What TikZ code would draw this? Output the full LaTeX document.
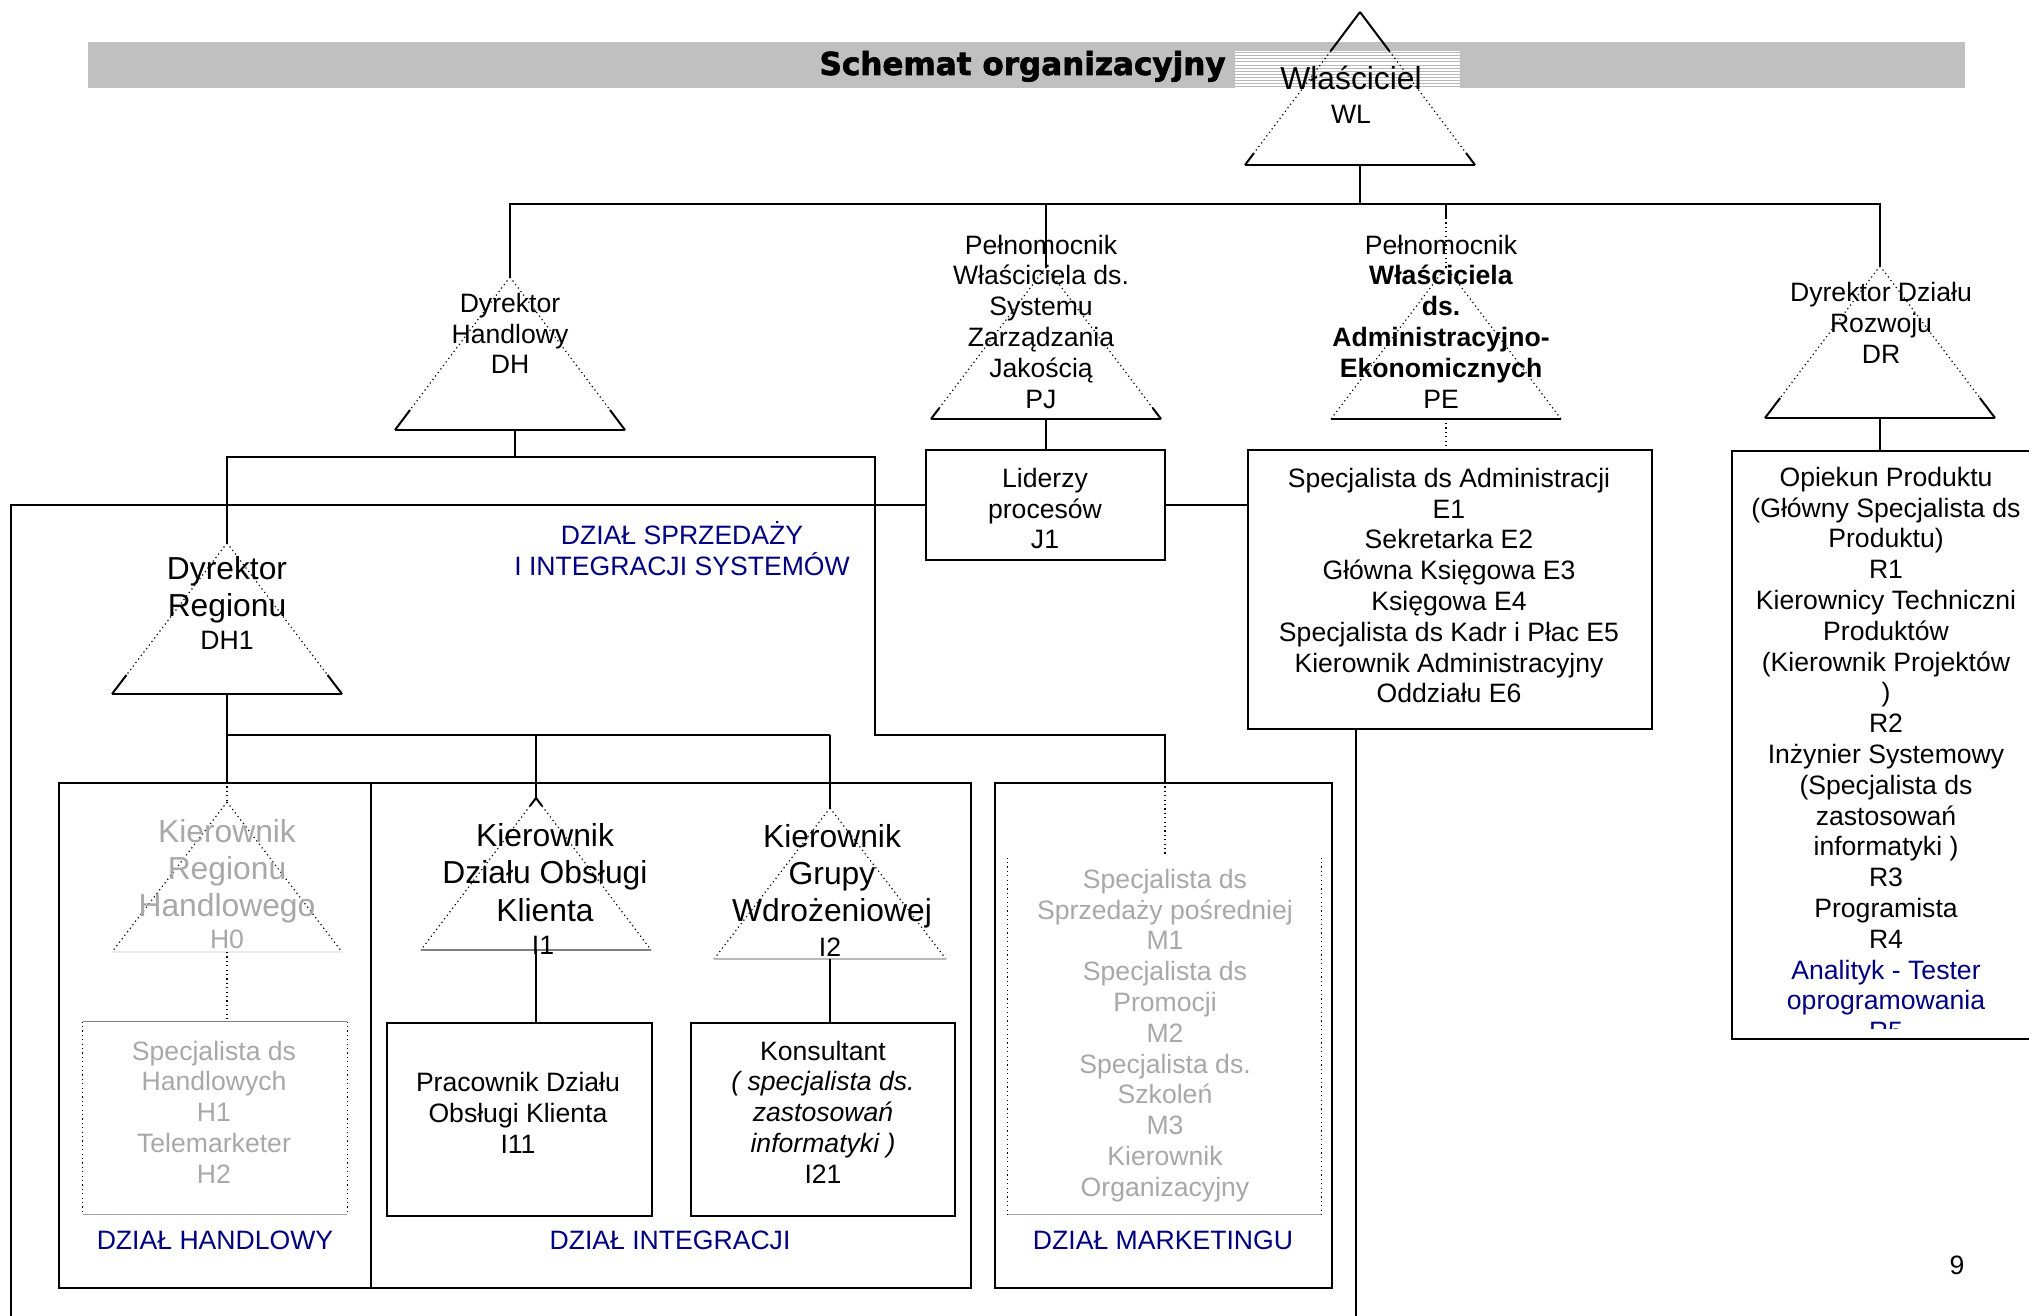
\documentclass[tikz,border=0pt]{standalone}
\usepackage{fontspec}
\setmainfont{Liberation Sans}
\newfontfamily\headfont{DejaVu Sans}[BoldFont={DejaVu Sans Bold},BoldFeatures={FakeBold=2}]
\usetikzlibrary{calc,fit}
\definecolor{navy}{HTML}{000080}
\definecolor{bargray}{HTML}{C0C0C0}
\definecolor{ghost}{gray}{0.66}

% triangle: name, centre x, apex y, base y, half width, dotted from y, dotted to y
\newcommand\orgtri[7]{%
  \coordinate (#1-a) at (#2,#3);
  \coordinate (#1-l) at ({#2-#5},#4);
  \coordinate (#1-r) at ({#2+#5},#4);
  \coordinate (#1-b) at (#2,#4);
  \foreach \s in {l,r}{
    \draw[triline] (#1-a) -- ($(#1-a)!{(#6-#3)/(#4-#3)}!(#1-\s)$);
    \draw[tridot] ($(#1-a)!{(#6-#3)/(#4-#3)}!(#1-\s)$) -- ($(#1-a)!{(#7-#3)/(#4-#3)}!(#1-\s)$);
    \draw[triline] ($(#1-a)!{(#7-#3)/(#4-#3)}!(#1-\s)$) -- (#1-\s);
  }%
}
% rectangular frame node from two corners
\newcommand\frameat[4]{%
  \coordinate (#1-nw) at (#2);
  \coordinate (#1-se) at (#3);
  \node[fit=(#1-nw)(#1-se),inner sep=0pt,#4] (#1) {};%
}

\begin{document}
\begin{tikzpicture}[x=0.5pt,y=-0.5pt,
  conn/.style={line width=1pt},
  thinconn/.style={line width=0.7pt},
  dots/.style={line width=0.6pt,dash pattern=on 0.6pt off 1.6pt},
  triline/.style={conn},
  tridot/.style={dots},
  frame/.style={draw,line width=1.2pt,fill=white},
  txt/.style={font=\fontsize{13.3}{15.4}\selectfont,align=center,inner sep=0pt},
  big/.style={font=\fontsize{15.9}{18.6}\selectfont,align=center,inner sep=0pt},
  ghosttxt/.style={text=ghost},
  deptlabel/.style={txt,text=navy}]

\useasboundingbox (0,0) rectangle (2029,1316);

% heading bar
\fill[bargray] (88,42) rectangle (1965,88);
\node[anchor=base east,inner sep=0pt] (title) at (1226,75)
  {\resizebox{203pt}{12pt}{\headfont\bfseries Schemat organizacyjny}};
% striped plate behind the owner
\fill[white] (1235,51) rectangle (1460,88);
\foreach \k in {0,...,11}
  \draw[gray!55,line width=0.35pt] (1235,{52.5+3.1*\k}) -- (1460,{52.5+3.1*\k});

% frames
\frameat{j1}{926,450}{1165,560}{frame}
\frameat{eb}{1248,450}{1652,729}{frame}
\frameat{rb}{1732,451}{2045,1039}{frame}
\frameat{hi}{59,783}{971,1288}{frame,line width=1pt}
\frameat{i11}{387,1023}{652,1216}{frame}
\frameat{i21}{691,1023}{955,1216}{frame}
\frameat{mk}{995,783}{1332,1288}{frame,line width=1pt}
\frameat{hb}{83,1022}{347,1214}{}
\frameat{mki}{1008,858}{1321,1214}{}

% divider between trade and integration departments
\coordinate (div) at (371,783);
\draw[thinconn] (div) -- (div |- hi.south);

% ghost frames
\draw[line width=0.6pt,gray] (hb.north west) -- (hb.north east);
\draw[line width=0.6pt,gray!70] (hb.south west) -- (hb.south east);
\draw[dots] (hb.north west) -- (hb.south west);
\draw[dots] (hb.north east) -- (hb.south east);
\draw[line width=0.6pt,gray!70] (mki.south west) -- (mki.south east);
\draw[dots] (mki.north west) -- (mki.south west);
\draw[dots] (mki.north east) -- (mki.south east);

% triangles
\orgtri{wl}{1360}{12}{165}{115}{51}{153}
\orgtri{dh}{510}{277}{430}{115}{277}{410}
\orgtri{pj}{1046}{267}{419}{115}{267}{408}
\orgtri{pe}{1446}{267}{419}{115}{267}{419}
\orgtri{dr}{1880}{266}{418}{115}{266}{398}
\orgtri{dh1}{227}{543}{694}{115}{543}{675}
\orgtri{i1}{536}{798}{950}{115}{806}{950}
\orgtri{i2}{830}{808}{959}{116}{808}{959}
\orgtri{h0}{227}{802}{952}{115}{802}{952}
\foreach \t in {wl,dh,pj,pe,dr,dh1} \draw[conn] (\t-l) -- (\t-r);
\draw[line width=0.7pt,gray] (i1-l) -- (i1-r);
\draw[line width=0.7pt,gray!55] (i2-l) -- (i2-r);
\draw[line width=0.6pt,gray!15] (h0-l) -- (h0-r);

% top level connectors
\coordinate (bus) at (1360,204);
\draw[conn] (wl-b) -- (bus);
\draw[conn] (dh-a) -- (dh-a |- bus) -- (dr-a |- bus) -- (dr-a);
\draw[conn] (pj-a |- bus) -- (pj-a);
\draw[conn] (pe-a |- bus) -- ++(0,14) coordinate (pe-k);
\draw[dots] (pe-k) -- (pe-a);
\draw[conn] (pj-b) -- (pj-b |- j1.north);
\draw[dots] (pe-b) ++(0,4) -- (pe-b |- eb.north);
\draw[conn] (dr-b) -- (dr-b |- rb.north);
\draw[conn] (j1.east) -- (j1.east -| eb.west);

% sales and systems integration container
\coordinate (sal-tl) at (11,505);
\coordinate (sal-r) at (1356,1316);
\draw[conn] (sal-tl |- sal-r) -- (sal-tl) -- (sal-tl -| j1.west);
\draw[conn] (eb.south -| sal-r) -- (sal-r);

% commercial director branches
\coordinate (dhx) at (515,457);
\coordinate (mkturn) at (875,735);
\coordinate (mkx) at (1165,854);
\draw[conn] (dhx |- dh-b) -- (dhx);
\draw[conn] (dh1-a) -- (dh1-a |- dhx) -- (mkturn |- dhx) -- (mkturn) -- (mkturn -| mkx) -- (mkx |- mk.north);
\draw[dots] (mkx |- mk.north) -- (mkx);

% regional director branches
\coordinate (ibus) at (227,735);
\draw[conn] (dh1-b) -- (ibus) -- (ibus -| i2-a);
\draw[thinconn] (ibus -| i1-a) -- (i1-a);
\draw[thinconn] (ibus -| i2-a) -- (i2-a);
\draw[conn] (ibus) -- (ibus |- hi.north);
\draw[dots] (ibus |- hi.north) -- (h0-a);
\draw[thinconn] (i1-b) -- (i1-b |- i11.north);
\draw[thinconn] (i2-b) -- (i2-b |- i21.north);
\draw[dots] (h0-b) -- (h0-b |- hb.north);

% labels
\node[big] (wl-t) at (1351,78) {Właściciel};
\node[txt] (wl-c) at (1351,114) {WL};
\node[txt] (dh-t) at (510,333.5) {Dyrektor\\Handlowy\\DH};
\node[txt] (pj-t) at (1041,321.5) {Pełnomocnik\\Właściciela ds.\\Systemu\\Zarządzania\\Jakością\\PJ};
\node[txt] (pe-t) at (1441,321.5) {Pełnomocnik\\\textbf{Właściciela}\\\textbf{ds.}\\\textbf{Administracyjno-}\\\textbf{Ekonomicznych}\\PE};
\node[txt] (dr-t) at (1881,323) {Dyrektor Działu\\Rozwoju\\DR};
\node[txt] (j1-t) at (1045,508.5) {Liderzy\\procesów\\J1};
\node[txt] (eb-t) at (1449,585.5) {Specjalista ds Administracji\\E1\\Sekretarka E2\\Główna Księgowa E3\\Księgowa E4\\Specjalista ds Kadr i Płac E5\\Kierownik Administracyjny\\Oddziału E6};
\begin{scope}
  \clip (rb.north west) rectangle (2045,1028);
  \node[txt] (rb-t) at (1886,754) {Opiekun Produktu\\(Główny Specjalista ds\\Produktu)\\R1\\Kierownicy Techniczni\\Produktów\\(Kierownik Projektów\\)\\R2\\Inżynier Systemowy\\(Specjalista ds\\zastosowań\\informatyki )\\R3\\Programista\\R4\\\textcolor{navy}{Analityk - Tester}\\\textcolor{navy}{oprogramowania}\\\textcolor{navy}{R5}};
\end{scope}
\node[deptlabel] (sal-t) at (682,548.5) {DZIAŁ SPRZEDAŻY\\I INTEGRACJI SYSTEMÓW};
\node[big] (dh1-t) at (227,589.5) {Dyrektor\\Regionu};
\node[txt] (dh1-c) at (227,640) {DH1};
\node[big] (i1-t) at (545,872.5) {Kierownik\\Działu Obsługi\\Klienta};
\node[txt] (i1-c) at (543,945) {I1};
\node[big] (i2-t) at (832,876) {Kierownik\\Grupy\\Wdrożeniowej};
\node[txt] (i2-c) at (830,947) {I2};
\node[big,ghosttxt] (h0-t) at (227,871) {Kierownik\\Regionu\\Handlowego};
\node[txt,ghosttxt] (h0-c) at (227,939) {H0};
\node[txt] (i11-t) at (518,1113) {Pracownik Działu\\Obsługi Klienta\\I11};
\node[txt] (i21-t) at (823,1112) {Konsultant\\\textit{( specjalista ds.}\\\textit{zastosowań}\\\textit{informatyki )}\\I21};
\node[txt,ghosttxt] (hb-t) at (214,1112) {Specjalista ds\\Handlowych\\H1\\Telemarketer\\H2};
\node[txt,ghosttxt] (mk-t) at (1165,1035.5) {Specjalista ds\\Sprzedaży pośredniej\\M1\\Specjalista ds\\Promocji\\M2\\Specjalista ds.\\Szkoleń\\M3\\Kierownik\\Organizacyjny};
\node[deptlabel] (hb-l) at (215,1240) {DZIAŁ HANDLOWY};
\node[deptlabel] (hi-l) at (670,1240) {DZIAŁ INTEGRACJI};
\node[deptlabel] (mk-l) at (1163,1240) {DZIAŁ MARKETINGU};
\node[txt] (pageno) at (1957,1265) {9};
\end{tikzpicture}
\end{document}
